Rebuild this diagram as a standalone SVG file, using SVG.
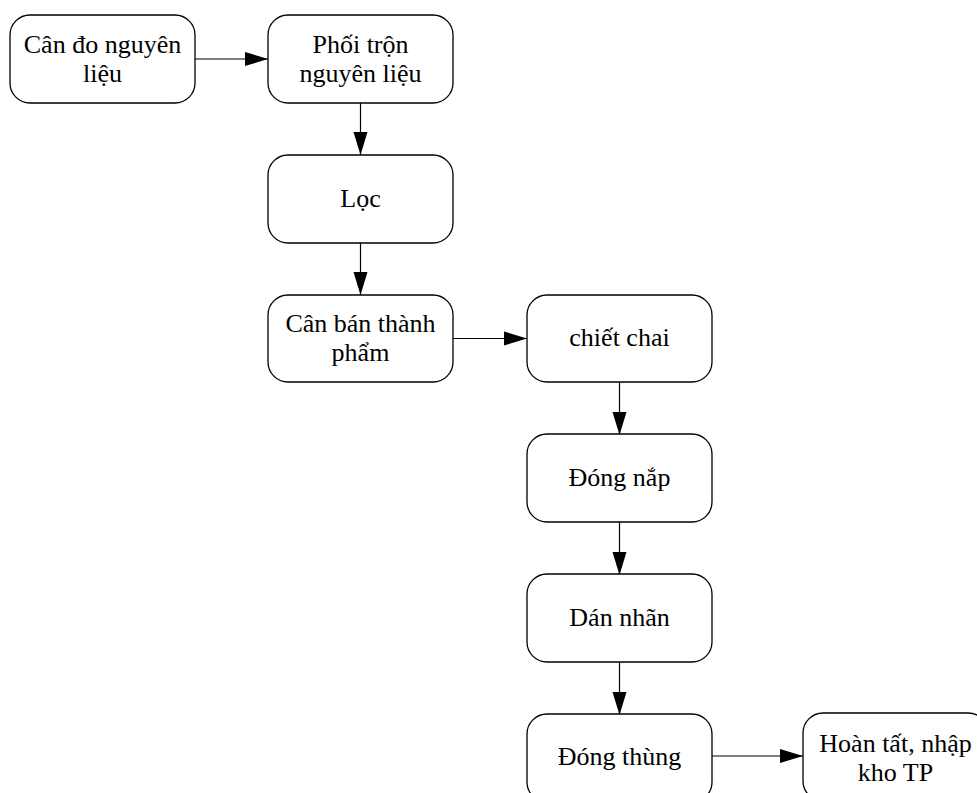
<svg xmlns="http://www.w3.org/2000/svg" width="977" height="793" viewBox="0 0 977 793">
<style>
.box{fill:#fff;stroke:#000;stroke-width:1.3}
.t{font-family:"Liberation Serif","Times New Roman",serif;font-size:26px;fill:#000;text-anchor:middle}
.c{stroke:#000;stroke-width:1.2;fill:none;marker-end:url(#ah)}
</style>
<defs>
<marker id="ah" markerUnits="userSpaceOnUse" markerWidth="24" markerHeight="16" refX="23" refY="7" orient="auto" viewBox="0 0 24 14">
<path d="M0,0 L23,7 L0,14 Z" fill="#000"/>
</marker>
</defs>
<rect width="977" height="793" fill="#fff"/>
<g id="connectors">
<line class="c" x1="195" y1="59" x2="268" y2="59"/>
<line class="c" x1="360.5" y1="103" x2="360.5" y2="155"/>
<line class="c" x1="360.5" y1="243" x2="360.5" y2="295"/>
<line class="c" x1="453" y1="338.5" x2="527" y2="338.5"/>
<line class="c" x1="619.5" y1="382" x2="619.5" y2="435"/>
<line class="c" x1="619.5" y1="522" x2="619.5" y2="575"/>
<line class="c" x1="619.5" y1="662" x2="619.5" y2="715"/>
<line class="c" x1="712" y1="756" x2="803" y2="756"/>
</g>
<g id="n1"><rect class="box" x="10" y="15" width="185" height="88" rx="20"/><text class="t" x="102.5" y="53">Cân đo nguyên</text><text class="t" x="102.5" y="81.5">liệu</text></g>
<g id="n2"><rect class="box" x="268" y="15" width="185" height="88" rx="20"/><text class="t" x="360.5" y="53">Phối trộn</text><text class="t" x="360.5" y="81.5">nguyên liệu</text></g>
<g id="n3"><rect class="box" x="268" y="155" width="185" height="88" rx="20"/><text class="t" x="360.5" y="206.5">Lọc</text></g>
<g id="n4"><rect class="box" x="268" y="295" width="185" height="87" rx="20"/><text class="t" x="360.5" y="332">Cân bán thành</text><text class="t" x="360.5" y="360.5">phẩm</text></g>
<g id="n5"><rect class="box" x="527" y="295" width="185" height="87" rx="20"/><text class="t" x="619.5" y="346">chiết chai</text></g>
<g id="n6"><rect class="box" x="527" y="434" width="185" height="88" rx="20"/><text class="t" x="619.5" y="485.5">Đóng nắp</text></g>
<g id="n7"><rect class="box" x="527" y="574" width="185" height="88" rx="20"/><text class="t" x="619.5" y="625.5">Dán nhãn</text></g>
<g id="n8"><rect class="box" x="527" y="714" width="185" height="88" rx="20"/><text class="t" x="619.5" y="765">Đóng thùng</text></g>
<g id="n9"><rect class="box" x="803" y="713" width="185" height="88" rx="20"/><text class="t" x="895.5" y="752">Hoàn tất, nhập</text><text class="t" x="895.5" y="780.5">kho TP</text></g>
</svg>
